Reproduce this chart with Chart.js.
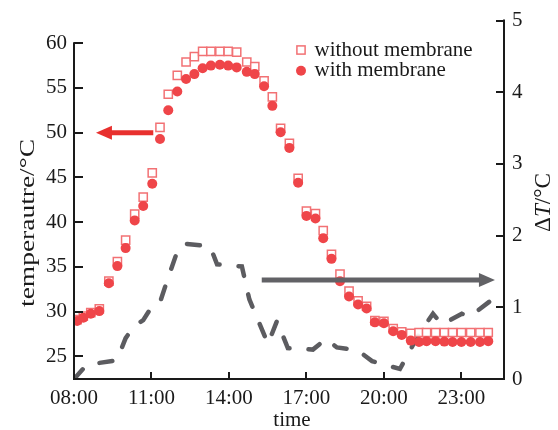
<!DOCTYPE html>
<html><head><meta charset="utf-8">
<script src="https://cdn.jsdelivr.net/npm/chart.js@4.4.1/dist/chart.umd.min.js"></script>
<style>html,body{margin:0;padding:0;background:#fff}canvas{display:block}</style>
</head><body>
<canvas id="c" width="558" height="430"></canvas>
<script>
// time of day (hours) for the scatter readings
const TIME=[8.12,8.36,8.65,8.98,9.35,9.68,10.0,10.35,10.68,11.03,11.33,11.65,12.0,12.34,12.66,12.98,13.3,13.65,13.97,14.3,
  14.69,15.0,15.36,15.68,16.0,16.34,16.68,17.0,17.35,17.65,17.97,18.3,18.65,19.0,19.33,19.65,20.0,20.36,20.69,21.04,
  21.36,21.65,22.0,22.34,22.66,23.0,23.36,23.72,24.04];
const T_WITHOUT=[29.1,29.5,29.9,30.3,33.4,35.6,38.0,40.9,42.8,45.5,50.6,54.3,56.4,57.9,58.5,59.1,59.1,59.1,59.1,59.0,
  57.9,57.4,55.8,54.0,50.5,48.8,44.9,41.25,40.95,39.05,36.4,34.2,32.3,31.2,30.6,29.0,28.9,28.1,27.75,27.56,
  27.67,27.67,27.67,27.67,27.67,27.67,27.67,27.67,27.67];
const T_WITH=[28.96,29.33,29.77,30.06,33.18,35.09,37.1,40.2,41.8,44.3,49.3,52.5,54.6,56.0,56.55,57.2,57.5,57.6,57.5,57.3,
  56.8,56.55,55.2,53.0,50.06,48.3,44.4,40.7,40.4,38.2,35.9,33.4,31.7,30.8,30.36,28.8,28.7,27.8,27.4,26.76,
  26.6,26.7,26.7,26.65,26.6,26.6,26.6,26.6,26.7];
// delta T curve (right axis)
const DT_TIME=[8.0,8.5,9.66,10.0,10.33,10.68,11.03,11.33,11.66,12.0,12.22,13.27,13.54,14.19,14.5,14.79,15.51,15.86,16.28,
  17.25,17.76,18.18,18.99,19.54,20.62,21.36,21.9,22.25,23.02,23.33,24.34];
const DT=[0.0,0.2,0.26,0.57,0.74,0.82,1.02,1.07,1.43,1.78,1.89,1.85,1.6,1.58,1.57,1.11,0.49,0.81,0.43,
  0.41,0.56,0.44,0.4,0.25,0.14,0.63,0.91,0.76,0.91,0.87,1.15];

const X_TICKS=[8,11,14,17,20,23];
const Y_TICKS=[25,30,35,40,45,50,55,60];
const Y2_TICKS=[0,1,2,3,4,5];
const LEGEND=['without membrane','with membrane'];
const ARROW_LEFT={from:[11.07,50],to:[8.85,50]};
const ARROW_RIGHT={from:[15.27,1.38],to:[24.3,1.38]};

const RED='#ef4549', RED_LT='#f27174', GRAY='#5c5c60', INK='#1a1a1a';
const SERIF='"Liberation Serif","Times New Roman",serif';
const tickFont={family:SERIF,size:21};

function pts(xs,ys){return xs.map((x,i)=>({x,y:ys[i]}))}
function hh(v){return String(v).padStart(2,'0')+':00'}

function arrow(ctx,x1,y1,x2,y2,col){
  const hl=16,hw=7,ang=Math.atan2(y2-y1,x2-x1);
  const bx=x2-hl*Math.cos(ang),by=y2-hl*Math.sin(ang);
  ctx.save();
  ctx.strokeStyle=col;ctx.fillStyle=col;ctx.lineWidth=5;ctx.lineCap='butt';
  ctx.beginPath();ctx.moveTo(x1,y1);ctx.lineTo(bx+Math.cos(ang),by+Math.sin(ang));ctx.stroke();
  ctx.beginPath();ctx.moveTo(x2,y2);
  ctx.lineTo(bx-hw*Math.sin(ang),by+hw*Math.cos(ang));
  ctx.lineTo(bx+hw*Math.sin(ang),by-hw*Math.cos(ang));
  ctx.closePath();ctx.fill();
  ctx.restore();
}

// stretched rotated label, reads bottom-to-top
function vlabel(ctx,parts,cx,cy,size,len){
  ctx.save();
  let w=0;
  parts.forEach(p=>{ctx.font=(p.it?'italic ':'')+size+'px '+SERIF;p.w=ctx.measureText(p.t).width;w+=p.w});
  const sx=len?len/w:1;
  ctx.translate(cx,cy);ctx.rotate(-Math.PI/2);ctx.scale(sx,1);
  ctx.fillStyle=INK;ctx.textBaseline='middle';ctx.textAlign='left';
  let x=-w/2;
  parts.forEach(p=>{ctx.font=(p.it?'italic ':'')+size+'px '+SERIF;ctx.fillText(p.t,x,1);x+=p.w});
  ctx.restore();
}

const frame={id:'frame',
  afterDatasetsDraw(c){
    const ctx=c.ctx,sx=c.scales.x,sy=c.scales.y,s2=c.scales.y2;
    arrow(ctx,sx.getPixelForValue(ARROW_LEFT.from[0]),sy.getPixelForValue(ARROW_LEFT.from[1]),
      sx.getPixelForValue(ARROW_LEFT.to[0]),sy.getPixelForValue(ARROW_LEFT.to[1]),'#e8302e');
    arrow(ctx,sx.getPixelForValue(ARROW_RIGHT.from[0]),s2.getPixelForValue(ARROW_RIGHT.from[1]),
      sx.getPixelForValue(ARROW_RIGHT.to[0]),s2.getPixelForValue(ARROW_RIGHT.to[1]),'#626266');
  },
  afterDraw(c){
    const ctx=c.ctx,a=c.chartArea,sx=c.scales.x,sy=c.scales.y,s2=c.scales.y2;
    ctx.save();
    ctx.strokeStyle=INK;ctx.lineWidth=2;ctx.lineCap='square';
    ctx.beginPath();
    ctx.moveTo(a.left,sy.getPixelForValue(60));ctx.lineTo(a.left,a.bottom);ctx.lineTo(a.right,a.bottom);
    ctx.lineTo(a.right,s2.getPixelForValue(5));
    ctx.stroke();
    ctx.lineCap='butt';ctx.beginPath();
    Y_TICKS.forEach(v=>{const p=Math.round(sy.getPixelForValue(v));ctx.moveTo(a.left,p);ctx.lineTo(a.left+9,p)});
    Y2_TICKS.forEach(v=>{const p=Math.round(s2.getPixelForValue(v));ctx.moveTo(a.right,p);ctx.lineTo(a.right-8,p)});
    X_TICKS.slice(1).forEach(v=>{const p=Math.round(sx.getPixelForValue(v));ctx.moveTo(p,a.bottom);ctx.lineTo(p,a.bottom-7)});
    ctx.stroke();
    // axis titles
    ctx.fillStyle=INK;ctx.font='21px '+SERIF;ctx.textAlign='center';ctx.textBaseline='alphabetic';
    ctx.fillText('time',(a.left+a.right)/2+3,426);
    vlabel(ctx,[{t:'temperautre/°C'}],27.5,223,22,168);
    vlabel(ctx,[{t:'Δ'},{t:'T',it:true},{t:'/°C'}],542.5,202.5,23,59);
    // legend
    const lx=a.left+227,ly=[50,70.7];
    const sq=c.data.datasets[1],ci=c.data.datasets[0];
    ctx.lineWidth=sq.borderWidth;ctx.strokeStyle=sq.borderColor;
    const h=sq.pointRadius*Math.SQRT1_2;
    ctx.strokeRect(lx-h,ly[0]-h,2*h,2*h);
    ctx.fillStyle=ci.backgroundColor;ctx.beginPath();ctx.arc(lx,ly[1],ci.pointRadius,0,Math.PI*2);ctx.fill();
    ctx.fillStyle=INK;ctx.font='21px '+SERIF;ctx.textAlign='left';
    ctx.fillText(LEGEND[0],lx+13.6,55.5);
    ctx.fillText(LEGEND[1],lx+13.6,76);
    ctx.restore();
  }
};

const axisBase={grid:{display:false,drawTicks:false,tickLength:0},border:{display:false}};

new Chart(document.getElementById('c'),{
  type:'scatter',
  data:{datasets:[
    {label:LEGEND[1],data:pts(TIME,T_WITH),yAxisID:'y',pointStyle:'circle',pointRadius:5,
     backgroundColor:RED,borderWidth:0,order:0},
    {label:LEGEND[0],data:pts(TIME,T_WITHOUT),yAxisID:'y',pointStyle:'rect',pointRadius:5.8,
     backgroundColor:'rgba(255,255,255,0.9)',borderColor:RED_LT,borderWidth:1.5,order:1},
    {type:'line',label:'ΔT',data:pts(DT_TIME,DT),yAxisID:'y2',borderColor:GRAY,borderWidth:4.5,
     borderDash:[13,19],borderCapStyle:'round',pointRadius:0,tension:0,fill:false,order:2}
  ]},
  options:{responsive:false,animation:false,
    layout:{padding:{top:15,left:0,right:0,bottom:0}},
    plugins:{legend:{display:false},tooltip:{enabled:false}},
    scales:{
      x:{type:'linear',min:8,max:24.65,...axisBase,
        afterBuildTicks:s=>{s.ticks=X_TICKS.map(v=>({value:v}))},
        afterFit:s=>{s.height=51},
        ticks:{font:tickFont,color:INK,padding:7,maxRotation:0,autoSkip:false,callback:v=>hh(v)}},
      y:{position:'left',min:22.47,max:62.53,...axisBase,
        afterBuildTicks:s=>{s.ticks=Y_TICKS.map(v=>({value:v}))},
        afterFit:s=>{s.width=74},
        ticks:{font:tickFont,color:INK,padding:7}},
      y2:{position:'right',min:0,max:5,...axisBase,
        afterBuildTicks:s=>{s.ticks=Y2_TICKS.map(v=>({value:v}))},
        afterFit:s=>{s.width=54},
        ticks:{font:tickFont,color:INK,padding:8}}
    }
  },
  plugins:[frame]
});
</script>
</body></html>
